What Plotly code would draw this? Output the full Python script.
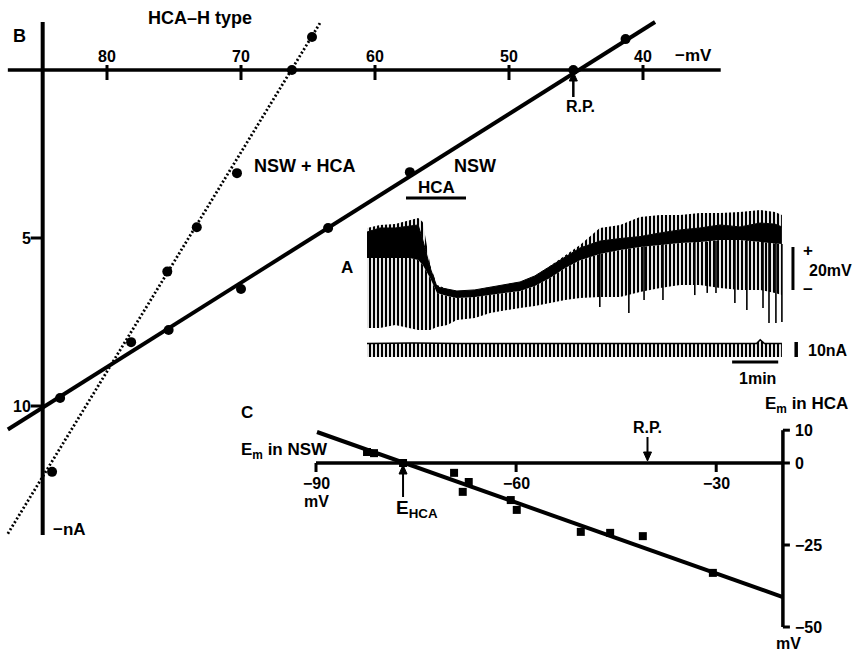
import plotly.graph_objects as go

W, H = 857, 654
FONT = "Liberation Sans"

# ---------------- Panel B: I-V relations of an HCA-H type cell ----------------
B_XTICKS = [80, 70, 60, 50, 40]          # -mV
B_YTICKS = [5, 10]                        # -nA
NSW_MV = [83.5, 75.4, 70.0, 63.5, 57.4, 45.2, 41.3]
NSW_NA = [9.76, 7.74, 6.52, 4.70, 3.04, 0.0, -0.92]
HCA_MV = [84.1, 78.2, 75.5, 73.3, 70.3, 66.2, 64.7]
HCA_NA = [11.96, 8.10, 6.00, 4.68, 3.07, 0.0, -0.98]
NSW_FIT_MV = [87.4, 39.1]
NSW_FIT_NA = [10.70, -1.43]
HCA_FIT_MV = [87.4, 64.1]
HCA_FIT_NA = [13.80, -1.40]
B_RP = 45.2               # resting potential, -mV
B_CROSS_MV = 84.8         # where the current axis meets the voltage axis
B_VOLT_AXIS = [87.4, 34.2]
B_CURR_AXIS = [-1.43, 13.84]

# ---------------- Panel A: membrane potential / current record ----------------
A_T = [0.00, 0.28, 0.61, 0.93, 1.11, 1.21, 1.37, 1.52, 1.74, 1.95, 2.34, 2.67, 2.99, 3.32, 3.64,
       3.97, 4.30, 4.62, 5.05, 5.49, 5.92, 6.36, 6.79, 7.22, 7.66, 8.09, 8.53, 8.85, 9.00]
A_TIP = [33.5, 34.9, 35.3, 37.2, 38.1, 36.3, 16.3, 7.0, 5.1, 4.2, 4.7, 6.0, 7.0, 8.4, 11.2,
         15.8, 20.9, 25.6, 33.5, 34.9, 38.6, 39.5, 39.5, 40.5, 40.5, 40.9, 41.9, 40.9, 39.5]
A_TOP = [31.6, 33.5, 33.5, 34.4, 34.9, 27.9, 14.9, 6.0, 5.1, 4.2, 4.7, 6.0, 7.0, 8.4, 11.2,
         15.8, 20.0, 24.2, 27.4, 28.6, 29.5, 31.2, 32.6, 33.5, 34.9, 34.0, 35.8, 35.3, 34.0]
A_BOT = [19.5, 19.5, 19.5, 19.5, 18.6, 16.3, 10.2, 3.3, 1.9, 0.9, 1.4, 2.3, 3.3, 4.2, 6.5,
         10.2, 14.9, 18.5, 21.4, 23.3, 24.7, 25.6, 26.5, 27.0, 27.9, 27.9, 27.0, 26.5, 26.0]
A_LOW = [-13.0, -13.0, -11.6, -13.0, -14.0, -14.0, -14.0, -12.6, -11.6, -9.3, -8.4, -6.0, -4.7, -3.7, -2.8,
         -1.4, 0.0, 0.9, 1.4, 1.4, 3.7, 5.6, 7.0, 7.0, 5.6, 4.7, 4.7, 3.3, 2.3]
A_DEEP_T = [5.05, 5.68, 6.01, 6.42, 7.11, 7.38, 7.57, 7.98, 8.24, 8.59, 8.72, 8.87, 9.00]
A_DEEP_TOP = [21.4, 24.0, 25.0, 26.0, 27.0, 27.0, 27.5, 27.9, 27.9, 27.0, 27.0, 26.5, 26.0]
A_DEEP_LOW = [-3.3, -6.0, 0.0, 0.0, 2.3, 3.3, 3.3, -1.4, -4.7, -3.7, -10.7, -10.7, -10.2]
CUR_T = [0.0, 1.0, 2.0, 3.0, 4.0, 5.0, 6.0, 7.0, 8.0, 8.45, 8.53, 8.62, 9.0]
CUR_TOP = [9.0, 9.3, 9.0, 9.0, 9.0, 9.0, 9.0, 9.0, 9.0, 9.0, 11.5, 9.0, 9.0]
CUR_BASE = [0.0] * len(CUR_T)
SCALE_MV, SCALE_NA, SCALE_MIN = 20, 10, 1

# ---------------- Panel C: Em in HCA vs Em in NSW ----------------
C_XTICKS = [-90, -60, -30]
C_YTICKS = [10, 0, -25, -50]
C_NSW = [-82.35, -81.3, -76.95, -69.3, -67.1, -68.0, -60.8, -59.9, -50.3, -45.9, -41.0, -30.5]
C_HCA = [3.35, 3.0, 0.0, -3.0, -5.8, -8.8, -11.3, -14.3, -21.0, -21.3, -22.3, -33.5]
C_FIT_X = [-89.85, -20.0]
C_FIT_Y = [9.45, -40.9]
C_EHCA = -76.95
C_RP = -40.3
C_XAXIS = [-90, -20]
C_YAXIS = [10, -50]


def xr(px_ref, val_ref, ppu):
    return [val_ref - px_ref / ppu, val_ref + (W - px_ref) / ppu]


def yr(px_ref, val_ref, ppu_down):
    return [val_ref + (H - px_ref) / ppu_down, val_ref - px_ref / ppu_down]


def P(x, y):
    return x / W, 1 - y / H


fig = go.Figure()
K = "black"

# --- B ---
fig.add_trace(go.Scatter(x=NSW_FIT_MV, y=NSW_FIT_NA, mode="lines", line=dict(color=K, width=4)))
fig.add_trace(go.Scatter(x=HCA_FIT_MV, y=HCA_FIT_NA, mode="lines",
                         line=dict(color=K, width=2.8, dash="2px,2.2px")))
fig.add_trace(go.Scatter(x=NSW_MV, y=NSW_NA, mode="markers", marker=dict(color=K, size=10)))
fig.add_trace(go.Scatter(x=HCA_MV, y=HCA_NA, mode="markers", marker=dict(color=K, size=10)))

# --- A ---
AX = dict(xaxis="x2", yaxis="y2")
SPIKES = dict(shape="|", size=4, solidity=0.55, fgcolor=K, fgopacity=1)
fig.add_trace(go.Scatter(x=A_T, y=A_LOW, mode="lines", line=dict(width=0, color=K), **AX))
fig.add_trace(go.Scatter(x=A_T, y=A_BOT, mode="lines", line=dict(width=0, color=K), fill="tonexty",
                         fillcolor="rgba(0,0,0,0)", fillpattern=SPIKES, **AX))
fig.add_trace(go.Scatter(x=A_T, y=A_TOP, mode="lines", line=dict(width=1, color=K), fill="tonexty",
                         fillcolor=K, **AX))
fig.add_trace(go.Scatter(x=A_T, y=A_TIP, mode="lines", line=dict(width=0, color=K), fill="tonexty",
                         fillcolor="rgba(0,0,0,0)", fillpattern=SPIKES, **AX))
deep_x, deep_y = [], []
for t, a, b in zip(A_DEEP_T, A_DEEP_TOP, A_DEEP_LOW):
    deep_x += [t, t, None]
    deep_y += [a, b, None]
fig.add_trace(go.Scatter(x=deep_x, y=deep_y, mode="lines", line=dict(width=1.6, color=K), **AX))
CX = dict(xaxis="x2", yaxis="y4")
fig.add_trace(go.Scatter(x=CUR_T, y=CUR_BASE, mode="lines", line=dict(width=0, color=K), **CX))
fig.add_trace(go.Scatter(x=CUR_T, y=CUR_TOP, mode="lines", line=dict(width=1.5, color=K), fill="tonexty",
                         fillcolor="rgba(0,0,0,0)", fillpattern=SPIKES, **CX))

# --- C ---
fig.add_trace(go.Scatter(x=C_FIT_X, y=C_FIT_Y, mode="lines", line=dict(color=K, width=4),
                         xaxis="x3", yaxis="y3"))
fig.add_trace(go.Scatter(x=C_NSW, y=C_HCA, mode="markers", marker=dict(color=K, size=8, symbol="square"),
                         xaxis="x3", yaxis="y3"))

shapes = []
# B axes
shapes.append(dict(type="line", xref="x", yref="y", x0=B_VOLT_AXIS[0], x1=B_VOLT_AXIS[1], y0=0, y1=0,
                   line=dict(color=K, width=3.5)))
shapes.append(dict(type="line", xref="x", yref="y", x0=B_CROSS_MV, x1=B_CROSS_MV,
                   y0=B_CURR_AXIS[0], y1=B_CURR_AXIS[1], line=dict(color=K, width=4)))
for v in B_XTICKS:
    shapes.append(dict(type="line", xref="x", yref="y", x0=v, x1=v, ysizemode="pixel", yanchor=0,
                       y0=5, y1=-10, line=dict(color=K, width=3)))
for v in B_YTICKS:
    shapes.append(dict(type="line", xref="x", yref="y", y0=v, y1=v, xsizemode="pixel", xanchor=B_CROSS_MV,
                       x0=-12, x1=0, line=dict(color=K, width=3)))
# HCA application bar
x0, y0 = P(406, 198)
x1, _ = P(466, 198)
shapes.append(dict(type="line", xref="paper", yref="paper", x0=x0, x1=x1, y0=y0, y1=y0,
                   line=dict(color=K, width=3)))
# A scale bars
shapes.append(dict(type="line", xref="x2", yref="y2", x0=9.24, x1=9.24, y0=4.65, y1=4.65 + SCALE_MV,
                   line=dict(color=K, width=3)))
shapes.append(dict(type="line", xref="x2", yref="y4", x0=9.31, x1=9.31, y0=0, y1=SCALE_NA,
                   line=dict(color=K, width=3.5)))
shapes.append(dict(type="line", xref="x2", yref="y4", x0=7.92, x1=7.92 + SCALE_MIN, y0=-3.3, y1=-3.3,
                   line=dict(color=K, width=3)))
# C axes
shapes.append(dict(type="line", xref="x3", yref="y3", x0=C_XAXIS[0], x1=C_XAXIS[1], y0=0, y1=0,
                   line=dict(color=K, width=3.5)))
shapes.append(dict(type="line", xref="x3", yref="y3", x0=C_XAXIS[1], x1=C_XAXIS[1],
                   y0=C_YAXIS[0], y1=C_YAXIS[1], line=dict(color=K, width=3.5)))
for v in C_XTICKS:
    shapes.append(dict(type="line", xref="x3", yref="y3", x0=v, x1=v, ysizemode="pixel", yanchor=0,
                       y0=0, y1=-9, line=dict(color=K, width=3)))
for v in C_YTICKS:
    shapes.append(dict(type="line", xref="x3", yref="y3", y0=v, y1=v, xsizemode="pixel",
                       xanchor=C_XAXIS[1], x0=0, x1=7, line=dict(color=K, width=3)))


def arrow(x, y, xref, yref, length, width=2.5):
    """Vertical arrow pointing at (x, y); tail `length` px below (length>0) or above (<0)."""
    s = 1 if length > 0 else -1
    tip, base = -2 * s, -11 * s
    shapes.append(dict(type="line", xref=xref, yref=yref, xsizemode="pixel", ysizemode="pixel",
                       xanchor=x, yanchor=y, x0=0, x1=0, y0=base, y1=-length,
                       line=dict(color=K, width=width)))
    shapes.append(dict(type="path", xref=xref, yref=yref, xsizemode="pixel", ysizemode="pixel",
                       xanchor=x, yanchor=y, path=f"M 0,{tip} L -4,{base} L 4,{base} Z",
                       fillcolor=K, line=dict(color=K, width=1)))


arrow(B_RP, 0, "x", "y", 27)
arrow(C_EHCA, 0, "x3", "y3", 34, 2)
arrow(C_RP, 0, "x3", "y3", -26, 2)

ann = []


def txt(text, x, y, size=16, xref="paper", yref="paper", **kw):
    if xref == "paper":
        x, y = P(x, y)
    d = dict(text="<b>" + text + "</b>", x=x, y=y, xref=xref, yref=yref, showarrow=False,
             xanchor="center", yanchor="middle", font=dict(family=FONT, size=size, color=K))
    d.update(kw)
    ann.append(d)


# B labels
txt("B", 19, 36, 18)
txt("HCA–H type", 200, 18, 18)
for v in B_XTICKS:
    txt(str(v), v, 0, 16, xref="x", yref="y", yshift=14)
for v in B_YTICKS:
    txt(str(v), B_CROSS_MV, v, 16, xref="x", yref="y", xanchor="right", xshift=-10)
txt("−mV", 693, 56, 17)
txt("−nA", 69, 529, 17)
txt("NSW + HCA", 305, 166, 18)
txt("NSW", 475, 166, 18)
txt("HCA", 436, 187, 17)
txt("R.P.", 580, 106, 16)

# A labels
txt("A", 347, 267, 17)
txt("+", 808, 250, 17)
txt("20mV", 830, 270, 16)
txt("−", 808, 289, 17)
txt("10nA", 828, 350, 16)
txt("1min", 757, 378, 16)

# C labels
txt("C", 247, 412, 17)
txt("E<sub>m</sub> in NSW", 284, 451, 17)
for v in C_XTICKS:
    txt(str(v).replace("-", "−"), v, 0, 16, xref="x3", yref="y3", yshift=-20)
txt("mV", 316, 501, 16)
for v in C_YTICKS:
    txt(str(v).replace("-", "−"), C_XAXIS[1], v, 16, xref="x3", yref="y3", xanchor="left", xshift=10)
txt("mV", 788, 643, 16)
txt("E<sub>m</sub> in HCA", 806, 405, 17)
txt("E<sub>HCA</sub>", 417, 509, 19)
txt("R.P.", 647, 427, 16)

hidden = dict(visible=False, fixedrange=True)
fig.update_layout(
    width=W, height=H, margin=dict(l=0, r=0, t=0, b=0),
    paper_bgcolor="white", plot_bgcolor="white", showlegend=False,
    xaxis=dict(domain=[0, 1], range=xr(107, 80, -13.4), **hidden),
    yaxis=dict(domain=[0, 1], range=yr(70, 0, 33.6), **hidden),
    xaxis2=dict(overlaying="x", range=xr(367, 0, 46.1), **hidden),
    yaxis2=dict(overlaying="y", range=yr(300, 0, -2.15), **hidden),
    yaxis4=dict(overlaying="y", range=yr(357, 0, -1.5), **hidden),
    xaxis3=dict(overlaying="x", range=xr(316, -90, 6.67), **hidden),
    yaxis3=dict(overlaying="y", range=yr(463, 0, -3.28), **hidden),
    shapes=shapes, annotations=ann,
)

fig.write_html("out.html")
